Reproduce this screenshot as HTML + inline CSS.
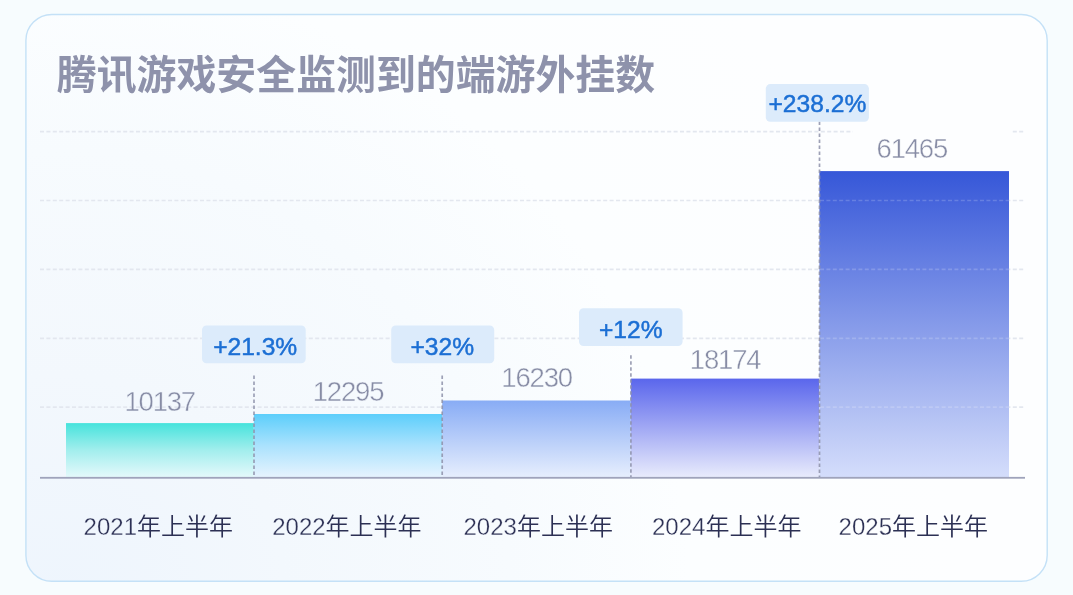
<!DOCTYPE html>
<html lang="zh-CN">
<head>
<meta charset="utf-8">
<title>腾讯游戏安全监测到的端游外挂数</title>
<style>
html,body{margin:0;padding:0;}
body{width:1073px;height:595px;overflow:hidden;position:relative;background:#f7fcfe;
  font-family:"Liberation Sans","Noto Sans CJK SC",sans-serif;}
svg{position:absolute;left:0;top:0;display:block;}
text{font-family:"Liberation Sans","Noto Sans CJK SC",sans-serif;}
.title{font-size:39.9px;font-weight:bold;fill:#8e92ab;}
.badge{font-size:24.6px;fill:#1c6fd4;stroke:#1c6fd4;stroke-width:0.5px;text-anchor:middle;}
.val{font-size:27.5px;letter-spacing:-1.2px;fill:#878ca5;text-anchor:middle;stroke-width:0.45px;}
.xl{font-size:24px;font-weight:350;fill:#2c3054;text-anchor:middle;}
.dg{stroke-width:0.3px;}
</style>
</head>
<body>
<svg width="1073" height="595" viewBox="0 0 1073 595">
  <defs>
    <radialGradient id="cardbg" gradientUnits="userSpaceOnUse" cx="60" cy="600" r="900">
      <stop offset="0" stop-color="#eef5fd"/>
      <stop offset="0.25" stop-color="#f3f8fd"/>
      <stop offset="0.5" stop-color="#f7fbfe"/>
      <stop offset="0.7" stop-color="#fcfeff"/>
      <stop offset="1" stop-color="#fdfeff"/>
    </radialGradient>
    <linearGradient id="g1" x1="0" y1="0" x2="0" y2="1">
      <stop offset="0" stop-color="#46e3dc"/><stop offset="0.5" stop-color="#a2eeed"/><stop offset="1" stop-color="#e4f9fb"/>
    </linearGradient>
    <linearGradient id="g2" x1="0" y1="0" x2="0" y2="1">
      <stop offset="0" stop-color="#5ccefb"/><stop offset="0.5" stop-color="#aae2fd"/><stop offset="1" stop-color="#e6f3fe"/>
    </linearGradient>
    <linearGradient id="g3" x1="0" y1="0" x2="0" y2="1">
      <stop offset="0" stop-color="#88acf5"/><stop offset="1" stop-color="#e6eefd"/>
    </linearGradient>
    <linearGradient id="g4" x1="0" y1="0" x2="0" y2="1">
      <stop offset="0" stop-color="#5a66ec"/><stop offset="1" stop-color="#e8ebfc"/>
    </linearGradient>
    <linearGradient id="g5" x1="0" y1="0" x2="0" y2="1">
      <stop offset="0" stop-color="#3657d8"/><stop offset="1" stop-color="#d4ddfb"/>
    </linearGradient>
  </defs>

  <!-- card -->
  <rect x="25.9" y="14.5" width="1021.3" height="566.8" rx="26" ry="26" fill="url(#cardbg)" stroke="#c4e1f7" stroke-width="1.4"/>

  <!-- title -->
  <text class="title" x="56.8" y="89.3">腾讯游戏安全监测到的端游外挂数</text>

  <!-- grid -->
  <g stroke="#e3e7ef" stroke-width="1.7" stroke-dasharray="4 2.4" fill="none">
    <line x1="40" y1="131.6" x2="1025" y2="131.6"/>
    <line x1="40" y1="200.5" x2="1025" y2="200.5"/>
    <line x1="40" y1="269.4" x2="1025" y2="269.4"/>
    <line x1="40" y1="338.3" x2="1025" y2="338.3"/>
    <line x1="40" y1="407.2" x2="1025" y2="407.2"/>
  </g>

  <!-- white box behind top value -->
  <rect x="853" y="124" width="158" height="44" fill="#fdfeff"/>

  <!-- bars -->
  <rect x="66" y="423.1" width="187.8" height="54" fill="url(#g1)"/>
  <rect x="253.8" y="414" width="188.4" height="63" fill="url(#g2)"/>
  <rect x="442.2" y="400.5" width="188.6" height="76.5" fill="url(#g3)"/>
  <rect x="630.8" y="378.6" width="188.4" height="98.4" fill="url(#g4)"/>
  <rect x="819.4" y="171.1" width="189.6" height="306" fill="url(#g5)"/>

  <!-- faint grid over bars -->
  <g stroke="#ffffff" stroke-opacity="0.18" stroke-width="1.7" stroke-dasharray="4 2.4" fill="none">
    <line x1="820" y1="200.5" x2="1009" y2="200.5"/>
    <line x1="820" y1="269.4" x2="1009" y2="269.4"/>
    <line x1="820" y1="338.3" x2="1009" y2="338.3"/>
    <line x1="820" y1="407.2" x2="1009" y2="407.2"/>
  </g>

  <!-- axis -->
  <rect x="40" y="476.9" width="985" height="1.8" fill="#9fa3bb"/>

  <!-- vertical dashed -->
  <g stroke="#8d91a9" stroke-opacity="0.85" stroke-width="1.7" stroke-dasharray="3.5 2.5" fill="none">
    <line x1="254" y1="375.4" x2="254" y2="477"/>
    <line x1="442.2" y1="375.4" x2="442.2" y2="477"/>
    <line x1="630.9" y1="355.2" x2="630.9" y2="477"/>
    <line x1="819.5" y1="121.6" x2="819.5" y2="477"/>
  </g>

  <!-- badges -->
  <g fill="#dcebfb">
    <rect x="202" y="325.4" width="103.7" height="37.8" rx="4.5"/>
    <rect x="391.2" y="325.4" width="103" height="37.8" rx="4.5"/>
    <rect x="579" y="308.3" width="103.6" height="37.8" rx="4.5"/>
    <rect x="765.8" y="84.1" width="103.1" height="37.6" rx="4.5"/>
  </g>
  <text class="badge" x="255.2" y="354.6">+21.3%</text>
  <text class="badge" x="442.3" y="354.6">+32%</text>
  <text class="badge" x="630.8" y="337.5">+12%</text>
  <text class="badge" x="817.4" y="112">+238.2%</text>

  <!-- values -->
  <text class="val" x="159.7" y="411.4" stroke="#f0f6fd">10137</text>
  <text class="val" x="348.0" y="401.3" stroke="#f3f7fd">12295</text>
  <text class="val" x="536.6" y="387.1" stroke="#f6fafd">16230</text>
  <text class="val" x="725.1" y="369.1" stroke="#fbfeff">18174</text>
  <text class="val" x="911.8" y="158" stroke="#fdfeff">61465</text>

  <!-- x labels -->
  <text class="xl" x="158.3" y="534.9"><tspan class="dg" stroke="#eef5fd">2021</tspan>年上半年</text>
  <text class="xl" x="346.9" y="534.9"><tspan class="dg" stroke="#f1f7fd">2022</tspan>年上半年</text>
  <text class="xl" x="538.2" y="534.9"><tspan class="dg" stroke="#f5f9fe">2023</tspan>年上半年</text>
  <text class="xl" x="726.7" y="534.9"><tspan class="dg" stroke="#fafdff">2024</tspan>年上半年</text>
  <text class="xl" x="913.3" y="534.9"><tspan class="dg" stroke="#fdfeff">2025</tspan>年上半年</text>
</svg>
</body>
</html>
